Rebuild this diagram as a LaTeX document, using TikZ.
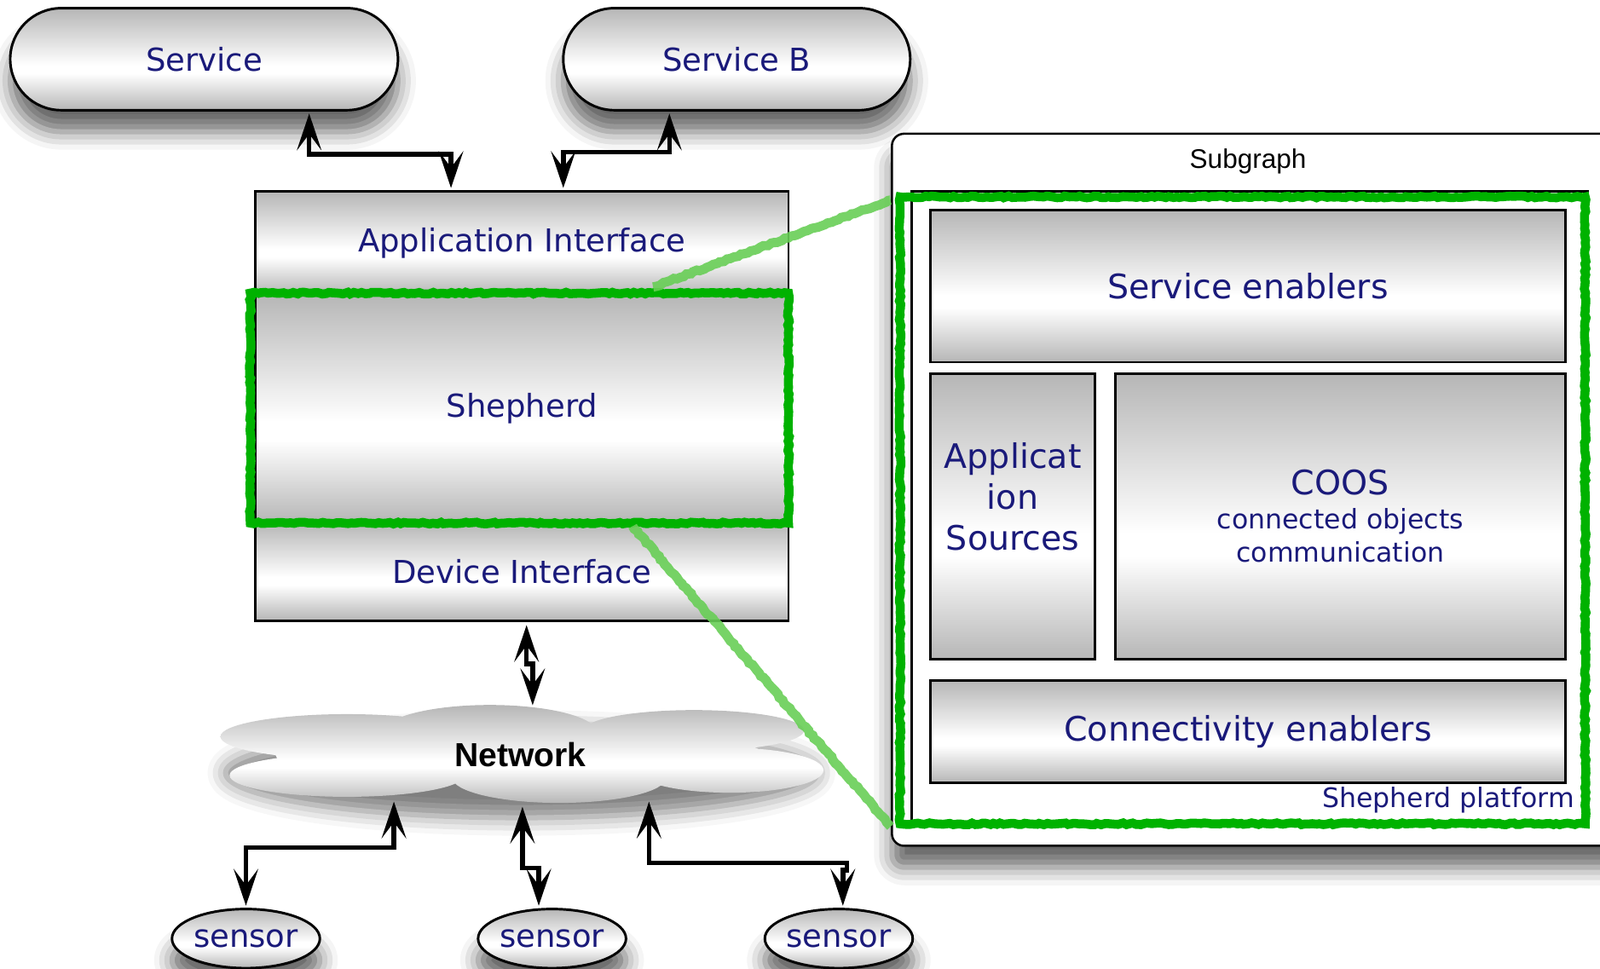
\documentclass[tikz,border=0pt]{standalone}
\usepackage{fontspec}
\setmainfont{DejaVu Sans}
\newfontfamily\arialfont{Liberation Sans}
\usetikzlibrary{shapes.geometric,shadows.blur,arrows.meta,decorations.pathmorphing}

\definecolor{textblue}{RGB}{26,26,122}
\definecolor{frameGreen}{RGB}{0,178,0}
\definecolor{zoomGreen}{RGB}{104,206,86}
\definecolor{metalgray}{RGB}{182,182,182}

\pgfdeclareverticalshading{metal}{100bp}{color(0bp)=(metalgray); color(25bp)=(metalgray); color(43bp)=(white); color(47bp)=(white); color(75bp)=(metalgray); color(100bp)=(metalgray)}
\pgfdeclarelayer{background}
\pgfsetlayers{background,main}

\tikzset{
	shadowed/.style={blur shadow={shadow xshift=0pt, shadow yshift=-6pt, shadow blur radius=5pt, shadow opacity=60}},
	layer/.style={rectangle, shade, shading=metal, inner sep=0pt, text=textblue, font=\fontsize{8.8}{10.5}\selectfont},
	pill/.style={layer, draw, line width=0.7pt, rounded corners=0.5cm, shadowed},
	block/.style={layer, draw, line width=0.7pt, font=\fontsize{9.4}{11.4}\selectfont},
	sensor/.style={layer, ellipse, draw, line width=0.7pt, shadowed, minimum width=1.42cm, minimum height=0.58cm},
	link/.style={{Stealth[length=3.6mm,width=2.4mm,inset=1.6mm]}-{Stealth[length=3.6mm,width=2.4mm,inset=1.6mm]}, line width=1.3pt},
	rough/.style={decorate, decoration={random steps, segment length=1pt, amplitude=0.25pt}},
	greenframe/.style={rough, draw=frameGreen, line width=2.5pt},
	zoomline/.style={rough, draw=zoomGreen, line width=2.6pt, opacity=0.9}
}

\begin{document}
\begin{tikzpicture}
	\useasboundingbox (0,0) rectangle (15.68,-9.49);
	% services
	\node[pill, minimum width=3.80cm, minimum height=1.00cm] (svcA) at (2.00,-0.58) {Service};
	\node[pill, minimum width=3.40cm, minimum height=1.00cm] (svcB) at (7.22,-0.58) {Service B};
	% shepherd stack
	\node[layer, minimum width=5.21cm, minimum height=1.00cm] (api) at (5.115,-2.38) {Application Interface};
	\node[layer, draw, dashed, thin, minimum width=5.21cm, minimum height=2.24cm] (shep) at (5.115,-4.00) {Shepherd};
	\node[layer, minimum width=5.21cm, minimum height=0.96cm] (dev) at (5.115,-5.60) {Device Interface};
	\begin{pgfonlayer}{background}
		\path[fill=white, shadowed] (api.north west) rectangle (dev.south east);
	\end{pgfonlayer}
	\draw[line width=0.7pt] (api.north west) rectangle (dev.south east);
	\draw[greenframe] ([xshift=-0.05cm]shep.north west) rectangle (shep.south east);
	% network cloud
	\path[blur shadow={shadow xshift=0pt, shadow yshift=-5pt, shadow blur radius=5pt, shadow opacity=50}] (5.11,-7.40) ellipse [x radius=2.90, y radius=0.44];
	\shade[shading=metal] (3.40,-7.22) ellipse [x radius=1.24, y radius=0.22]
		(4.80,-7.18) ellipse [x radius=1.05, y radius=0.27]
		(6.80,-7.16) ellipse [x radius=1.08, y radius=0.20]
		(3.40,-7.60) ellipse [x radius=1.15, y radius=0.21]
		(5.48,-7.62) ellipse [x radius=1.05, y radius=0.25]
		(7.15,-7.55) ellipse [x radius=0.92, y radius=0.22]
		(5.10,-7.40) ellipse [x radius=2.40, y radius=0.25];
	\node[font=\arialfont\bfseries\fontsize{9.3}{11}\selectfont, minimum width=5.9cm, minimum height=0.96cm] (net) at (5.10,-7.40) {Network};
	% sensors
	\node[sensor] (s1) at (2.41,-9.20) {sensor};
	\node[sensor] (s2) at (5.41,-9.20) {sensor};
	\node[sensor] (s3) at (8.22,-9.20) {sensor};
	% links
	\draw[link] ([shift={(1.03,-0.02)}]svcA.south) -- ++(0,-0.40) -| ([shift={(-0.695,0.03)}]api.north);
	\draw[link] ([shift={(-0.66,-0.02)}]svcB.south) -- ++(0,-0.38) -| ([shift={(0.405,0.03)}]api.north);
	\draw[link] ([shift={(0.045,-0.04)}]dev.south) -- ++(0,-0.38) -| ([xshift=0.12cm]net.north);
	\draw[link] ([shift={(-1.24,0.03)}]net.south) -- ++(0,-0.45) -| ([yshift=0.02cm]s1.north);
	\draw[link] ([shift={(0.02,-0.02)}]net.south) -- ++(0,-0.60) -| ([shift={(-0.13,0.02)}]s2.north);
	\draw[link] ([shift={(1.26,0.03)}]net.south) -- ++(0,-0.60) -- ++(1.94,0) -- ++(0,-0.07) -| ([shift={(0.04,0.02)}]s3.north);
	% subgraph
	\node[draw, fill=white, line width=0.6pt, rounded corners=0.12cm, shadowed, anchor=north west, inner sep=0pt, minimum width=7.20cm, minimum height=6.98cm] (sub) at (8.73,-1.30) {};
	\node[font=\arialfont\fontsize{7.5}{9}\selectfont, inner sep=0pt] (subTitle) at ([shift={(-0.11,-0.28)}]sub.north) {Subgraph};
	\node[draw, fill=white, line width=0.7pt, anchor=north west, inner sep=0pt, minimum width=6.63cm, minimum height=6.22cm] (plat) at (8.92,-1.86) {};
	\node[block, minimum width=6.22cm, minimum height=1.49cm] (se) at (12.23,-2.805) {Service enablers};
	\node[block, minimum width=1.61cm, minimum height=2.80cm] (as) at (9.925,-5.06) {};
	\node[text=textblue, font=\fontsize{9.4}{11.4}\selectfont, align=center] (asText) at ([yshift=0.19cm]as.center) {Applicat\\ion\\Sources};
	\node[block, minimum width=4.41cm, minimum height=2.80cm, align=center, font=\fontsize{7.5}{9.4}\selectfont] (coos) at (13.135,-5.06) {{\fontsize{9.4}{9.7}\selectfont COOS}\\connected objects\\communication};
	\node[block, minimum width=6.22cm, minimum height=1.00cm] (ce) at (12.23,-7.17) {Connectivity enablers};
	\node[text=textblue, font=\fontsize{7.5}{9}\selectfont, anchor=south east, inner sep=0pt] (platLabel) at ([shift={(-0.14,0.13)}]plat.south east) {Shepherd platform};
	\draw[greenframe] ([shift={(-0.10,-0.07)}]plat.north west) rectangle ([shift={(-0.04,0.03)}]plat.south east);
	% zoom lines
	\draw[zoomline] ([shift={(1.285,0.06)}]shep.north) -- ([yshift=-0.10cm]sub.west |- plat.north west);
	\draw[zoomline] ([shift={(1.085,-0.03)}]shep.south) -- (sub.west |- plat.south west);
\end{tikzpicture}
\end{document}
